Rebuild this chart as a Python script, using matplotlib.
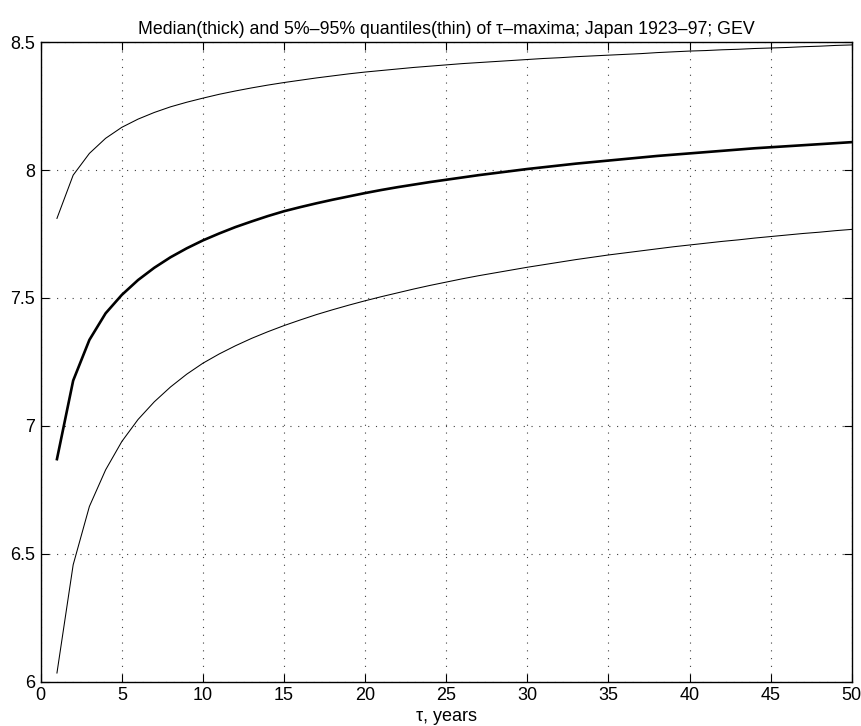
import matplotlib
matplotlib.use("Agg")
import matplotlib.pyplot as plt
import numpy as np

# return period tau, years
tau = list(range(1, 51))

# median of tau-maxima (thick curve)
median = [6.870, 7.177, 7.336, 7.440, 7.512, 7.570, 7.618, 7.659, 7.694, 7.725,
          7.752, 7.777, 7.799, 7.820, 7.839, 7.855, 7.870, 7.884, 7.897, 7.910,
          7.922, 7.933, 7.943, 7.953, 7.962, 7.971, 7.980, 7.988, 7.996, 8.004,
          8.011, 8.018, 8.025, 8.031, 8.037, 8.043, 8.049, 8.055, 8.060, 8.065,
          8.070, 8.075, 8.080, 8.085, 8.089, 8.093, 8.097, 8.101, 8.105, 8.109]

# 95% quantile (upper thin curve)
q95 = [7.811, 7.980, 8.065, 8.124, 8.167, 8.199, 8.225, 8.247, 8.265, 8.281,
       8.296, 8.309, 8.321, 8.332, 8.342, 8.351, 8.360, 8.368, 8.376, 8.383,
       8.389, 8.395, 8.401, 8.406, 8.411, 8.416, 8.420, 8.424, 8.428, 8.432,
       8.436, 8.439, 8.443, 8.446, 8.449, 8.452, 8.455, 8.459, 8.462, 8.465,
       8.467, 8.470, 8.472, 8.475, 8.477, 8.479, 8.482, 8.484, 8.487, 8.489]

# 5% quantile (lower thin curve)
q05 = [6.034, 6.457, 6.685, 6.828, 6.939, 7.025, 7.094, 7.152, 7.202, 7.245,
       7.281, 7.313, 7.342, 7.368, 7.392, 7.414, 7.435, 7.454, 7.472, 7.489,
       7.505, 7.520, 7.535, 7.549, 7.562, 7.575, 7.587, 7.598, 7.609, 7.620,
       7.630, 7.640, 7.650, 7.659, 7.668, 7.676, 7.684, 7.692, 7.700, 7.707,
       7.714, 7.721, 7.727, 7.734, 7.740, 7.746, 7.752, 7.757, 7.763, 7.768]

x_ticks = [0, 5, 10, 15, 20, 25, 30, 35, 40, 45, 50]
y_ticks = [6, 6.5, 7, 7.5, 8, 8.5]
y_ticklabels = ["6", "6.5", "7", "7.5", "8", "8.5"]

plt.rcParams["font.family"] = ["Liberation Sans", "DejaVu Sans"]

fig = plt.figure(figsize=(8.61, 7.26), dpi=100)
ax = fig.add_axes([0.0473, 0.061, 0.942, 0.881])

ax.plot(tau, q95, color="black", linewidth=0.75)
ax.plot(tau, median, color="black", linewidth=1.9)
ax.plot(tau, q05, color="black", linewidth=0.75)

ax.set_xlim(0, 50)
ax.set_ylim(6, 8.5)
ax.set_xticks(x_ticks)
ax.set_yticks(y_ticks)
ax.set_yticklabels(y_ticklabels)

ax.grid(True, color="0.25", linestyle=(0, (1, 6)), linewidth=0.8)
ax.tick_params(direction="in", top=True, right=True, length=6, width=0.8,
               labelsize=13, pad=4)
for s in ax.spines.values():
    s.set_linewidth(1.0)

ax.set_xlabel("τ, years", fontsize=13, labelpad=3)
ax.set_title("Median(thick) and 5%–95% quantiles(thin) of τ–maxima; Japan 1923–97; GEV",
             fontsize=12.8, pad=6)

fig.savefig("out.png", dpi=100)
